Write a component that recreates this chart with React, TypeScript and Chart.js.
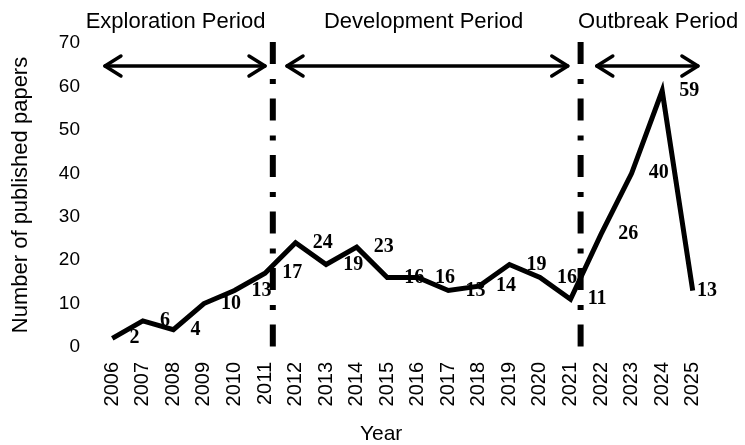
import React, { useEffect, useRef } from "react";
import { Chart, registerables } from "chart.js";

Chart.register(...registerables);

const years = ["2006","2007","2008","2009","2010","2011","2012","2013","2014","2015","2016","2017","2018","2019","2020","2021","2022","2023","2024","2025"];
const papers = [2, 6, 4, 10, 13, 17, 24, 19, 23, 16, 16, 13, 14, 19, 16, 11, 26, 40, 59, 13];
const yMin = 0;
const yMax = 70;
const yStep = 10;

const periodNames = ["Exploration Period", "Development Period", "Outbreak Period"];
const periodTitleCenters = [2.07, 10.19, 17.87];
const periodArrowStarts = [-0.24, 5.72, 15.86];
const periodArrowEnds = [5.0, 14.91, 19.17];
const dividerPositions = [5.255, 15.33];
const xTitle = "Year";
const yTitle = "Number of published papers";
const xTitleCenter = 8.8;

const SANS = "'Liberation Sans', Arial, sans-serif";
const SERIF = "'Liberation Serif', 'Times New Roman', serif";

function drawArrowHead(ctx: CanvasRenderingContext2D, x: number, y: number, dir: number) {
  ctx.beginPath();
  ctx.moveTo(x - dir * 16, y - 10);
  ctx.lineTo(x, y);
  ctx.lineTo(x - dir * 16, y + 10);
  ctx.stroke();
}

const annotations = {
  id: "annotations",
  beforeDatasetsDraw(chart: any) {
    const ctx = chart.ctx as CanvasRenderingContext2D;
    const xs = chart.scales.x;
    ctx.save();
    ctx.strokeStyle = "#000";
    ctx.lineWidth = 6;
    ctx.lineCap = "butt";
    ctx.setLineDash([22, 15, 5, 14.5]);
    dividerPositions.forEach((p) => {
      const x = xs.getPixelForValue(p);
      ctx.beginPath();
      ctx.moveTo(x, 42);
      ctx.lineTo(x, 349);
      ctx.stroke();
    });
    ctx.restore();
  },
  afterDatasetsDraw(chart: any) {
    const ctx = chart.ctx as CanvasRenderingContext2D;
    const xs = chart.scales.x;
    const ys = chart.scales.y;
    const area = chart.chartArea;
    ctx.save();
    // arrows
    ctx.strokeStyle = "#000";
    ctx.lineWidth = 3.5;
    ctx.lineCap = "round";
    ctx.lineJoin = "round";
    const arrowY = 66;
    periodArrowStarts.forEach((s, i) => {
      const x1 = xs.getPixelForValue(s);
      const x2 = xs.getPixelForValue(periodArrowEnds[i]);
      ctx.beginPath();
      ctx.moveTo(x1, arrowY);
      ctx.lineTo(x2, arrowY);
      ctx.stroke();
      drawArrowHead(ctx, x1, arrowY, -1);
      drawArrowHead(ctx, x2, arrowY, 1);
    });
    // period titles
    ctx.fillStyle = "#000";
    ctx.font = `22px ${SANS}`;
    ctx.textAlign = "center";
    ctx.textBaseline = "alphabetic";
    periodNames.forEach((n, i) => {
      ctx.fillText(n, xs.getPixelForValue(periodTitleCenters[i]), 28);
    });
    // data labels
    const step = xs.getPixelForValue(1) - xs.getPixelForValue(0);
    ctx.font = `bold 20px ${SERIF}`;
    ctx.textAlign = "left";
    ctx.textBaseline = "middle";
    papers.forEach((v, i) => {
      const x = Math.min(xs.getPixelForValue(i) + 0.56 * step, area.right - 11);
      const y = ys.getPixelForValue(v);
      ctx.fillText(String(v), x, y);
    });
    // x title
    ctx.font = `21px ${SANS}`;
    ctx.textAlign = "center";
    ctx.textBaseline = "alphabetic";
    ctx.fillText(xTitle, xs.getPixelForValue(xTitleCenter), 440);
    ctx.restore();
  },
};

export default function App() {
  const ref = useRef<HTMLCanvasElement>(null);
  useEffect(() => {
    document.body.style.margin = "0";
    if (!ref.current) return;
    const chart = new Chart(ref.current, {
      type: "line",
      data: {
        labels: years,
        datasets: [
          {
            data: papers,
            borderColor: "#000",
            borderWidth: 5,
            pointRadius: 0,
            tension: 0,
            fill: false,
            borderJoinStyle: "miter",
          },
        ],
      },
      options: {
        animation: false,
        responsive: true,
        maintainAspectRatio: false,
        layout: { padding: { top: 43, right: 37, bottom: 0, left: 0 } },
        plugins: { legend: { display: false }, tooltip: { enabled: false } },
        scales: {
          x: {
            type: "category",
            offset: true,
            grid: { display: false, drawTicks: false },
            border: { display: false },
            ticks: {
              autoSkip: false,
              minRotation: 90,
              maxRotation: 90,
              padding: 15,
              color: "#000",
              font: { family: SANS, size: 20 },
            },
            afterFit: (s: any) => {
              s.height = 98;
            },
          },
          y: {
            min: yMin,
            max: yMax,
            grid: { display: false, drawTicks: false },
            border: { display: false },
            ticks: {
              stepSize: yStep,
              padding: 17,
              color: "#000",
              font: { family: SANS, size: 19 },
            },
            title: {
              display: true,
              text: yTitle,
              color: "#000",
              font: { family: SANS, size: 22 },
              padding: { top: 8, bottom: 0 },
            },
            afterFit: (s: any) => {
              s.width = 97;
            },
          },
        },
      },
      plugins: [annotations],
    });
    return () => chart.destroy();
  }, []);
  return (
    <div style={{ position: "absolute", left: 0, top: 0, width: 745, height: 445 }}>
      <canvas ref={ref} />
    </div>
  );
}
